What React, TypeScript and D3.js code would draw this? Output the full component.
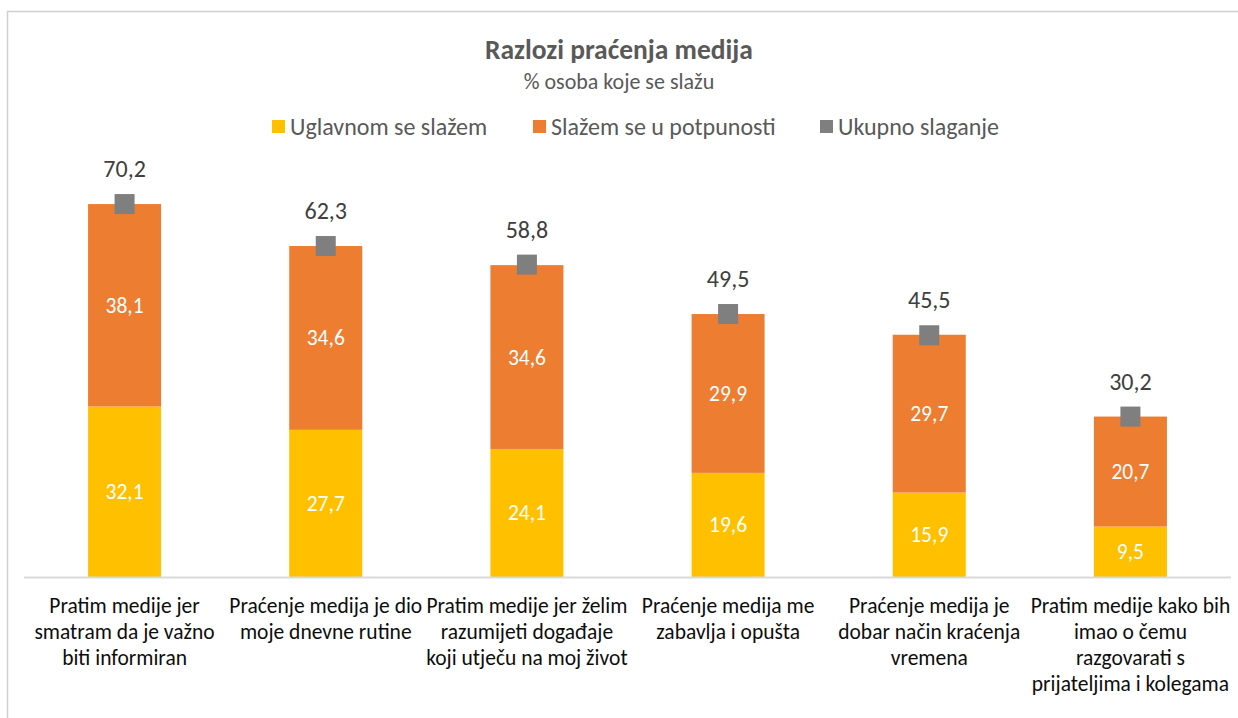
import React from 'react';
import * as d3 from 'd3';

// data
const categories = [
  'Pratim medije jer smatram da je važno biti informiran',
  'Praćenje medija je dio moje dnevne rutine',
  'Pratim medije jer želim razumijeti događaje koji utječu na moj život',
  'Praćenje medija me zabavlja i opušta',
  'Praćenje medija je dobar način kraćenja vremena',
  'Pratim medije kako bih imao o čemu razgovarati s prijateljima i kolegama',
];
const categoryLines = [
  ['Pratim medije jer', 'smatram da je važno', 'biti informiran'],
  ['Praćenje medija je dio', 'moje dnevne rutine'],
  ['Pratim medije jer želim', 'razumijeti događaje', 'koji utječu na moj život'],
  ['Praćenje medija me', 'zabavlja i opušta'],
  ['Praćenje medija je', 'dobar način kraćenja', 'vremena'],
  ['Pratim medije kako bih', 'imao o čemu', 'razgovarati s', 'prijateljima i kolegama'],
];
const uglavnom = [32.1, 27.7, 24.1, 19.6, 15.9, 9.5];
const potpunosti = [38.1, 34.6, 34.6, 29.9, 29.7, 20.7];
const ukupno = [70.2, 62.3, 58.8, 49.5, 45.5, 30.2];

const seriesNames = ['Uglavnom se slažem', 'Slažem se u potpunosti', 'Ukupno slaganje'];
const colors = ['#FFC000', '#ED7D31', '#7F7F7F'];

const W = 1238;
const H = 718;
const FONT = 'Carlito, Lato, "Open Sans", sans-serif';
const fmt = (v: number) => v.toFixed(1).replace('.', ',');

export default function App() {
  const x = d3.scaleBand<string>()
    .domain(categories)
    .range([24, 1231])
    .paddingInner(0.637)
    .paddingOuter(0.3185);
  const y = d3.scaleLinear().domain([0, 80]).range([577, 152]);

  const stacked = d3.stack<number>()
    .keys(['0', '1'])
    .value((i, k) => (k === '0' ? uglavnom[i] : potpunosti[i]))(d3.range(categories.length));

  const legendX = [272, 533, 820];

  return (
    <svg width={W} height={H} style={{ position: 'absolute', left: 0, top: 0, fontFamily: FONT }}>
      <rect x={0} y={0} width={W} height={H} fill="#fff" />
      <rect x={7.5} y={11.5} width={W} height={H} fill="none" stroke="#D0D0D0" strokeWidth={1.5} />

      {/* title */}
      <text x={619} y={59} textAnchor="middle" fontSize={27.5} fontWeight="bold" fill="#595959">
        Razlozi praćenja medija
      </text>
      <text x={619} y={89} textAnchor="middle" fontSize={22} fill="#595959">
        % osoba koje se slažu
      </text>

      {/* legend */}
      {seriesNames.map((name, i) => (
        <g key={name} transform={`translate(${legendX[i]},0)`}>
          <rect x={0} y={120} width={13} height={13} fill={colors[i]} />
          <text x={18} y={135} fontSize={24} fill="#595959">{name}</text>
        </g>
      ))}

      {/* bars */}
      {stacked.map((layer, si) => (
        <g key={si}>
          {layer.map((d, i) => (
            <g key={i}>
              <rect
                x={x(categories[i])}
                y={y(d[1])}
                width={x.bandwidth()}
                height={y(d[0]) - y(d[1])}
                fill={colors[si]}
              />
              <text
                x={(x(categories[i]) as number) + x.bandwidth() / 2}
                y={(y(d[0]) + y(d[1])) / 2 + 7.5}
                textAnchor="middle"
                fontSize={21.5}
                fill="#fff"
              >
                {fmt(d[1] - d[0])}
              </text>
            </g>
          ))}
        </g>
      ))}

      {/* axis line */}
      <line x1={24} x2={1231} y1={y(0) + 0.5} y2={y(0) + 0.5} stroke="#D9D9D9" strokeWidth={2} />

      {/* total markers */}
      {ukupno.map((v, i) => {
        const cx = (x(categories[i]) as number) + x.bandwidth() / 2;
        return (
          <g key={i}>
            <rect x={cx - 10} y={y(v) - 10} width={20} height={20} fill={colors[2]} />
            <text x={cx} y={y(v) - 27} textAnchor="middle" fontSize={24} fill="#404040">
              {fmt(v)}
            </text>
          </g>
        );
      })}

      {/* category labels */}
      {categoryLines.map((lines, i) => {
        const cx = (x(categories[i]) as number) + x.bandwidth() / 2;
        return (
          <text key={i} textAnchor="middle" fontSize={21.5} fill="#0D0D0D">
            {lines.map((ln, j) => (
              <tspan key={j} x={cx} y={613 + j * 26}>{ln}</tspan>
            ))}
          </text>
        );
      })}
    </svg>
  );
}
